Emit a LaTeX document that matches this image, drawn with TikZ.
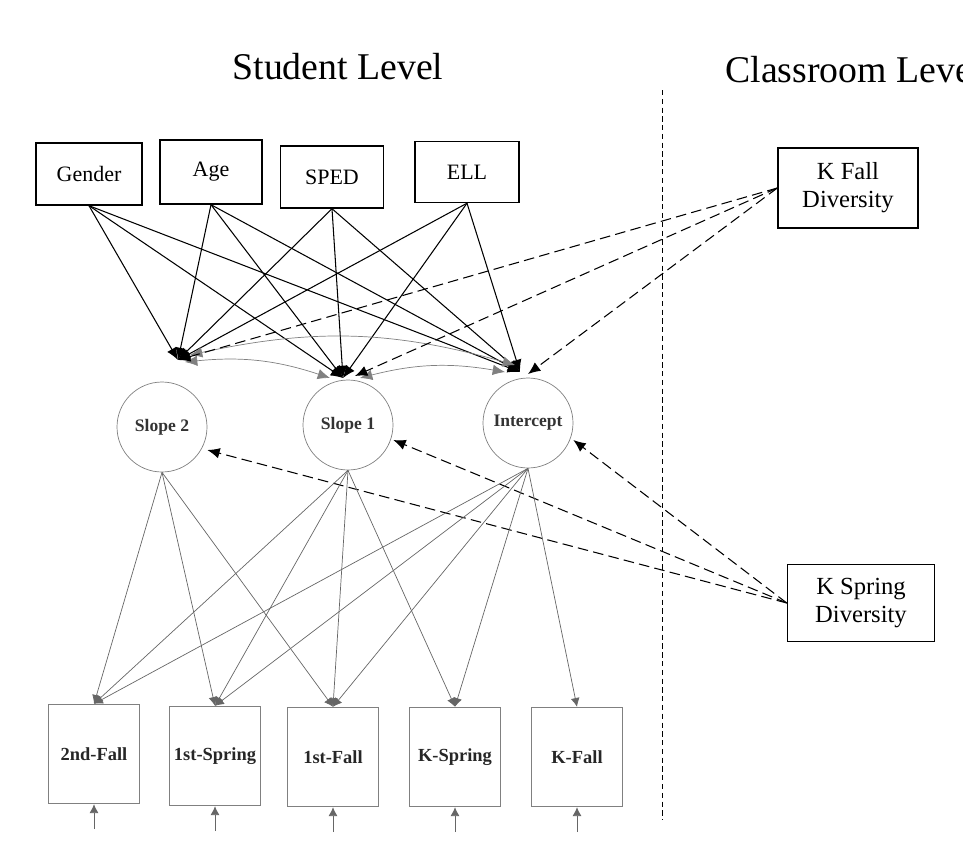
\documentclass[tikz,border=0pt]{standalone}
\usepackage{fontspec}
\setmainfont{Liberation Serif}
\usetikzlibrary{arrows.meta}
\begin{document}
\begin{tikzpicture}[x=0.02cm,y=-0.02cm,
  topbox/.style={draw,thick,font=\fontsize{12.5}{14}\selectfont},
  lat/.style={draw=gray,circle,minimum size=90*0.02cm,inner sep=0pt,text=black!80,font=\bfseries\fontsize{10}{12}\selectfont},
  obs/.style={draw=gray,thick,minimum width=91*0.02cm,minimum height=99*0.02cm,inner sep=0pt,text=black!85,font=\bfseries\fontsize{10.5}{12}\selectfont},
  cls/.style={draw,thick,align=center,font=\fontsize{14}{16}\selectfont,inner sep=3pt},
  pth/.style={-{Latex[length=7pt,width=6pt]},semithick},
  load/.style={-{Latex[length=5pt,width=5pt]},gray!80!black},
  dsh/.style={-{Latex[length=7pt,width=6pt]},dashed,semithick,dash pattern=on 6pt off 3pt},
  cov/.style={{Latex[length=7pt,width=6pt]}-{Latex[length=7pt,width=6pt]},gray}]
\useasboundingbox (0,0) rectangle (963,849);
\node (t1) at (338,67) {\fontsize{21.5}{24}\selectfont Student Level};
\node[anchor=west,inner sep=0pt] (t2) at (725,70) {\fontsize{21.5}{24}\selectfont Classroom Level};
\draw[dashed,dash pattern=on 3pt off 2pt] (662,90) coordinate (v1) -- (662,820) coordinate (v2);
\node[topbox,minimum width=106*0.02cm,minimum height=62*0.02cm] (gen) at (89,174) {Gender};
\node[topbox,minimum width=102*0.02cm,minimum height=64*0.02cm] (age) at (211,172) {Age};
\node[topbox,minimum width=103*0.02cm,minimum height=62*0.02cm] (sped) at (332,177) {SPED};
\node[topbox,minimum width=104*0.02cm,minimum height=61*0.02cm] (ell) at (467,172) {ELL};
\node[lat] (s2) at (162,427) {Slope 2};
\node[lat] (s1) at (348,425) {Slope 1};
\node[lat] (ic) at (528,423) {Intercept};
\node[obs] (o1) at (94,754) {2nd-Fall};
\node[obs] (o2) at (215,756) {1st-Spring};
\node[obs] (o3) at (333,757) {1st-Fall};
\node[obs] (o4) at (455,757) {K-Spring};
\node[obs] (o5) at (577,757) {K-Fall};
\node[cls,minimum width=140*0.02cm,minimum height=80*0.02cm] (kf) at (848,188) {K Fall\\Diversity};
\node[cls,minimum width=147*0.02cm,minimum height=77*0.02cm] (ks) at (861,603) {K Spring\\Diversity};
\coordinate (a2) at (178,360); \coordinate (a1) at (343,378); \coordinate (a0) at (520,372);
\foreach \s in {gen,age,sped,ell}{
  \draw[pth] (\s.south) -- (a2);
  \draw[pth] (\s.south) -- (a1);
  \draw[pth] (\s.south) -- (a0);}
\draw[cov] (185,362) to[bend left=12] (330,378);
\draw[cov] (360,378) to[bend left=12] (505,372);
\draw[cov] (190,355) to[bend left=14] (515,365);
\draw[dsh] (kf.west) -- (a2);
\draw[dsh] (kf.west) -- (355,376);
\draw[dsh] (kf.west) -- (528,374);
\draw[dsh] (ks.west) -- (s2.east |- 0,450);
\draw[dsh] (ks.west) -- (s1.east |- 0,440);
\draw[dsh] (ks.west) -- (ic.east |- 0,440);
\foreach \o in {o1,o2,o3}{\draw[load] (s2.south) -- (\o.north);}
\foreach \o in {o1,o2,o3,o4}{\draw[load] (s1.south) -- (\o.north);}
\foreach \o in {o1,o2,o3,o4,o5}{\draw[load] (ic.south) -- (\o.north);}
\foreach \o in {o1,o2,o3,o4,o5}{\draw[load] (\o.south) ++(0,25) coordinate (e\o) -- (\o.south);}
\end{tikzpicture}
\end{document}
